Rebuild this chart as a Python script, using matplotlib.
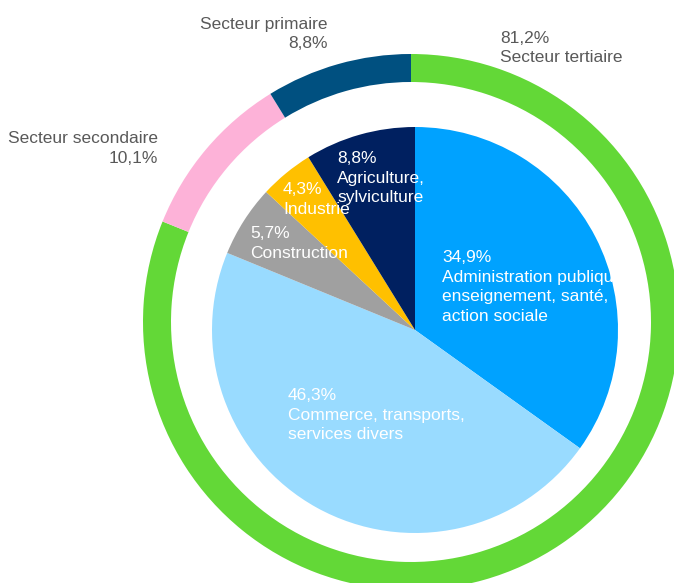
import matplotlib
matplotlib.use("Agg")
import matplotlib.pyplot as plt

plt.rcParams['font.family'] = ['Liberation Sans', 'DejaVu Sans']

# inner pie: branches, clockwise from 12 o'clock
branches = ["Administration publique\nenseignement, santé,\naction sociale",
            "Commerce, transports,\nservices divers",
            "Construction",
            "Industrie",
            "Agriculture,\nsylviculture"]
branch_pct = [34.9, 46.3, 5.7, 4.3, 8.8]
branch_colors = ["#00A2FF", "#99DBFF", "#A0A0A0", "#FFC000", "#002060"]

# outer ring: sectors, clockwise from 12 o'clock
sectors = ["Secteur tertiaire", "Secteur secondaire", "Secteur primaire"]
sector_pct = [81.2, 10.1, 8.8]
sector_colors = ["#63D837", "#FDB2D8", "#005080"]

W, H = 674, 583
fig = plt.figure(figsize=(W / 100, H / 100), dpi=100)
ax = fig.add_axes([0, 0, 1, 1])

ax.pie(sector_pct, colors=sector_colors, startangle=90, counterclock=False,
       center=(411, H - 322), radius=268, frame=True,
       wedgeprops=dict(width=28, linewidth=0))
ax.pie(branch_pct, colors=branch_colors, startangle=90, counterclock=False,
       center=(415, H - 330), radius=203, frame=True,
       wedgeprops=dict(linewidth=0))
ax.set_xlim(0, W)
ax.set_ylim(0, H)
ax.set_aspect('equal')
ax.axis('off')

fs = 12.5
ls = 1.38
grey = "#595959"


def pct(v):
    return f"{v:.1f}".replace(".", ",") + "%"


# outer labels
ax.text(500, H - 31, pct(sector_pct[0]) + "\n" + sectors[0], color=grey,
        fontsize=fs, ha='left', va='top', linespacing=1.3)
ax.text(158, H - 131, sectors[1] + "\n" + pct(sector_pct[1]), color=grey,
        fontsize=fs, ha='right', va='top', linespacing=ls, multialignment='right')
ax.text(328, H - 17, sectors[2] + "\n" + pct(sector_pct[2]), color=grey,
        fontsize=fs, ha='right', va='top', linespacing=1.3, multialignment='right')

# inner labels
inner_pos = [(442, 250), (288, 388), (250, 226), (283, 182), (337, 151)]
for name, v, (x, y) in zip(branches, branch_pct, inner_pos):
    ax.text(x, H - y, pct(v) + "\n" + name, color="white", fontsize=fs,
            ha='left', va='top', linespacing=ls)

fig.savefig("out.png", dpi=100, facecolor="white")
